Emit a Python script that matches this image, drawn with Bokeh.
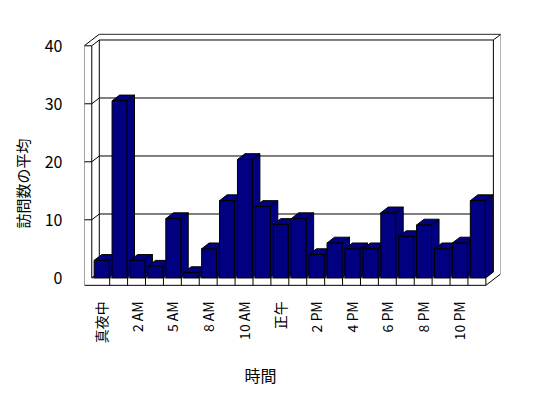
import math
from bokeh.plotting import figure
from bokeh.models import Range1d, FixedTicker, Title
from bokeh.core.properties import value
from bokeh.embed import file_html
from bokeh.resources import INLINE

# ---- data ----
categories = ["真夜中", "1 AM", "2 AM", "3 AM", "5 AM", "7 AM", "8 AM", "9 AM",
              "10 AM", "11 AM", "正午", "1 PM", "2 PM", "3 PM", "4 PM", "5 PM",
              "6 PM", "7 PM", "8 PM", "9 PM", "10 PM", "11 PM"]
visits = [3.0, 30.5, 3.0, 2.0, 10.2, 0.9, 5.0, 13.3, 20.4, 12.3, 9.2, 10.2,
          4.0, 6.0, 5.0, 5.0, 11.2, 7.1, 9.1, 5.0, 6.0, 13.3]
y_ticks = [0, 10, 20, 30, 40]
x_title = "時間"
y_title = "訪問数の平均"

FONT = "Noto Sans CJK JP"
N = len(categories)
DX, DY = 0.42, 1.0      # 3-D depth offset (data units)
FT = 1.3                # floor thickness
LEFT, RIGHT, TOP = -0.5, N - 0.5, max(y_ticks)
BAR_L, BAR_W = 0.133, 0.833

# frame spans from the top wall down through the category-label band
p = figure(width=548, height=398, output_backend="svg", toolbar_location=None,
           x_range=Range1d(-0.9056, 22.317), y_range=Range1d(-14.26, 42.12),
           min_border_left=82, min_border_right=48, min_border_top=33,
           min_border_bottom=38, background_fill_color="white",
           border_fill_color="white")
p.outline_line_color = None
p.xgrid.visible = False
p.ygrid.visible = False
p.xaxis.visible = False

# ---- walls, floor and grid lines ----
xs, ys = [], []
def seg(pts):
    xs.append([a for a, b in pts]); ys.append([b for a, b in pts])

for t in y_ticks:
    seg([(LEFT + DX, t + DY), (RIGHT + DX, t + DY)])
    if t > 0:
        seg([(LEFT - DX, t), (LEFT, t), (LEFT + DX, t + DY)])
    else:
        seg([(LEFT, 0), (LEFT + DX, DY)])
seg([(LEFT - DX, -FT), (LEFT - DX, TOP), (LEFT, TOP + DY), (LEFT + DX, TOP + 2 * DY),
     (RIGHT + 2 * DX, TOP + 2 * DY), (RIGHT + 2 * DX, -FT + 2 * DY), (RIGHT, -FT),
     (LEFT - DX, -FT)])
seg([(LEFT, TOP), (LEFT, 0)])
seg([(LEFT + DX, TOP + DY), (LEFT + DX, DY)])
seg([(RIGHT + DX, TOP + DY), (RIGHT + DX, DY)])
seg([(RIGHT + DX, TOP + DY), (RIGHT + 2 * DX, TOP + 2 * DY)])
seg([(LEFT, 0), (RIGHT, 0)])
seg([(RIGHT, 0), (RIGHT, -FT)])
seg([(RIGHT, 0), (RIGHT + DX, DY)])
for k in range(1, N):
    seg([(LEFT + k, 0), (LEFT + k, -FT)])
p.multi_line(xs, ys, line_color="black", line_width=1)

# ---- 3-D bars ----
px, py = [], []
for i, v in enumerate(visits):
    xl = i - 0.5 + BAR_L
    xr = xl + BAR_W
    px.append([xr, xr + DX, xr + DX, xr]); py.append([0, DY, v + DY, v])
    px.append([xl, xr, xr + DX, xl + DX]); py.append([v, v, v + DY, v + DY])
    px.append([xl, xr, xr, xl]); py.append([0, 0, v, v])
p.patches(px, py, fill_color="#000080", line_color="black", line_width=1)

# ---- y axis ----
ya = p.yaxis[0]
ya.ticker = FixedTicker(ticks=y_ticks)
ya.axis_line_color = None
ya.major_tick_line_color = None
ya.minor_tick_line_color = None
ya.major_label_standoff = 16
ya.major_label_text_font = FONT
ya.major_label_text_font_size = "16px"
ya.major_label_text_color = "black"

# ---- category labels: every other category, top-aligned, reading upward ----
shown = list(range(0, N, 2))
p.text(x=shown, y=[-FT] * len(shown), text=[categories[i] for i in shown],
       y_offset=16, angle=math.pi / 2, text_align="right", text_baseline="middle",
       text_font=value(FONT), text_font_size="14px", text_color="black")

p.add_layout(Title(text=x_title, align="left", offset=160, standoff=0,
                   text_font=FONT, text_font_size="16px", text_font_style="normal",
                   text_color="black"), "below")
p.add_layout(Title(text=y_title, align="left", offset=132, standoff=18,
                   text_font=FONT, text_font_size="15px", text_font_style="normal",
                   text_color="black"), "left")

open("out.html", "w").write(file_html(p, INLINE))
